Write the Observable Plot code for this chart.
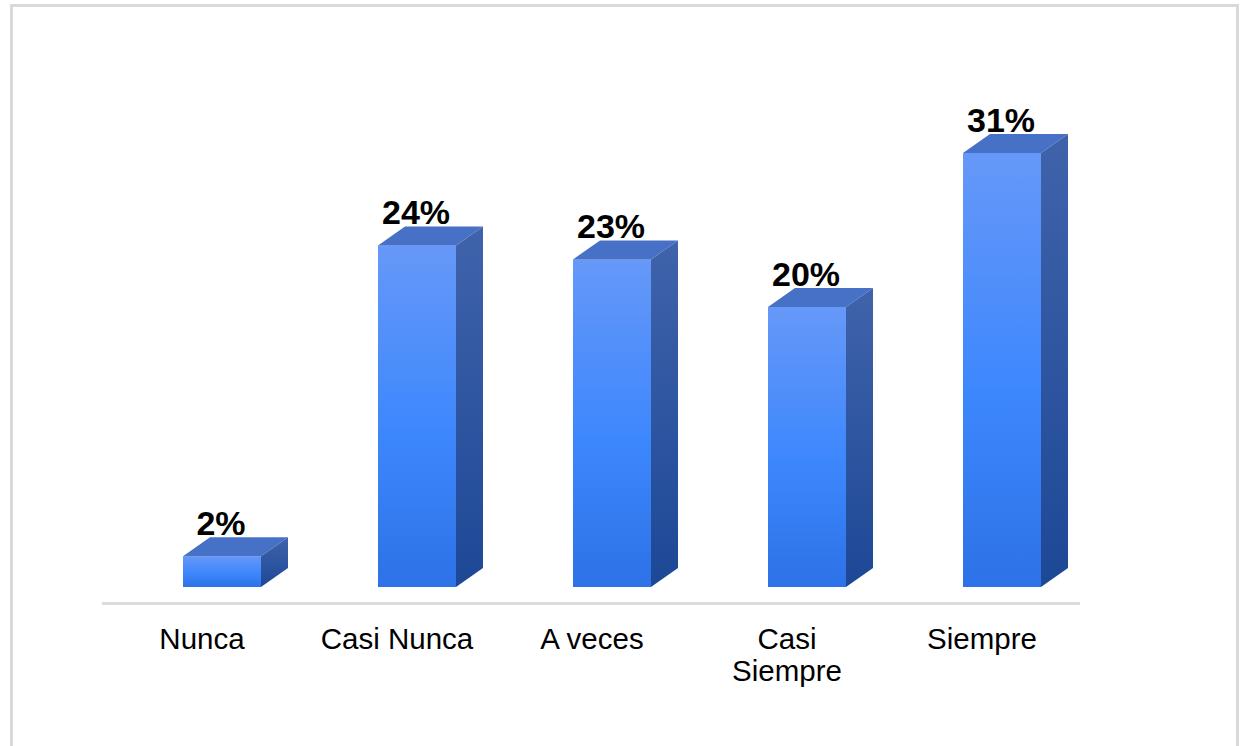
<!DOCTYPE html>
<html>
<head>
<meta charset="utf-8">
<script src="https://cdn.jsdelivr.net/npm/d3@7"></script>
<script src="https://cdn.jsdelivr.net/npm/@observablehq/plot@0.6"></script>
<style>
  html, body { margin: 0; padding: 0; background: #fff; width: 1241px; height: 746px; overflow: hidden; }
  #frame { position: absolute; left: 10px; top: 4px; width: 1223px; height: 800px; border: 3px solid #d9d9d9; border-bottom: none; }
  #chart { position: absolute; left: 0; top: 0; }
</style>
</head>
<body>
<div id="frame"></div>
<div id="chart"></div>
<script>
const categories = ["Nunca", "Casi Nunca", "A veces", "Casi Siempre", "Siempre"];
const values = [2.2, 24.4, 23.4, 20.0, 31.0];
const valueLabels = ["2%", "24%", "23%", "20%", "31%"];
const tickLabels = ["Nunca", "Casi Nunca", "A veces", "Casi\nSiempre", "Siempre"];

const data = categories.map((c, i) => ({cat: c, value: values[i], label: valueLabels[i]}));

const DEPTH_X = 27, DEPTH_Y = 19, INSET_L = 79, INSET_R = 38;

const defsMark = () => {
  const defs = d3.create("svg:defs");
  const f = defs.append("linearGradient").attr("id", "frontGrad").attr("x1", 0).attr("y1", 0).attr("x2", 0).attr("y2", 1);
  f.append("stop").attr("offset", "0%").attr("stop-color", "#6698f8");
  f.append("stop").attr("offset", "55%").attr("stop-color", "#3d87fd");
  f.append("stop").attr("offset", "100%").attr("stop-color", "#2d72e6");
  const s = defs.append("linearGradient").attr("id", "sideGrad").attr("x1", 0).attr("y1", 0).attr("x2", 0).attr("y2", 1);
  s.append("stop").attr("offset", "0%").attr("stop-color", "#4063ab");
  s.append("stop").attr("offset", "100%").attr("stop-color", "#1d4896");
  return defs.node();
};

const facesMark = (index, scales) => {
  const g = d3.create("svg:g");
  const bw = scales.x(categories[1]) - scales.x(categories[0]);
  data.forEach(d => {
    const x0 = scales.x(d.cat);
    const xl = x0 + INSET_L, xr = x0 + bw - INSET_R;
    const yt = scales.y(d.value), yb = scales.y(0);
    g.append("path")
      .attr("d", `M${xl},${yt}L${xl + DEPTH_X},${yt - DEPTH_Y}L${xr + DEPTH_X},${yt - DEPTH_Y}L${xr},${yt}Z`)
      .attr("fill", "#4671c6");
    g.append("path")
      .attr("d", `M${xr},${yt}L${xr + DEPTH_X},${yt - DEPTH_Y}L${xr + DEPTH_X},${yb - DEPTH_Y}L${xr},${yb}Z`)
      .attr("fill", "url(#sideGrad)");
  });
  return g.node();
};

const chart = Plot.plot({
  width: 1241,
  height: 746,
  marginLeft: 102,
  marginRight: 161,
  marginTop: 97,
  marginBottom: 159,
  x: {domain: categories, padding: 0, axis: null, label: null},
  y: {domain: [0, 35], axis: null},
  style: {fontFamily: "'Liberation Sans', Arial, sans-serif", background: "transparent", overflow: "visible"},
  marks: [
    defsMark,
    Plot.ruleY([0], {dy: 16, stroke: "#dcdcdc", strokeWidth: 3}),
    Plot.barY(data, {x: "cat", y: "value", fill: "url(#frontGrad)", insetLeft: INSET_L, insetRight: INSET_R}),
    facesMark,
    Plot.text(data, {x: "cat", y: "value", text: "label", dx: 19, dy: -22, lineAnchor: "bottom",
      fontSize: 34, fontWeight: "bold", fill: "#000"}),
    Plot.axisX({tickSize: 0, tickPadding: 38, fontSize: 29.5, lineHeight: 1.1, fill: "#000", label: null,
      tickFormat: d => tickLabels[categories.indexOf(d)]})
  ]
});
document.getElementById("chart").appendChild(chart);
</script>
</body>
</html>
